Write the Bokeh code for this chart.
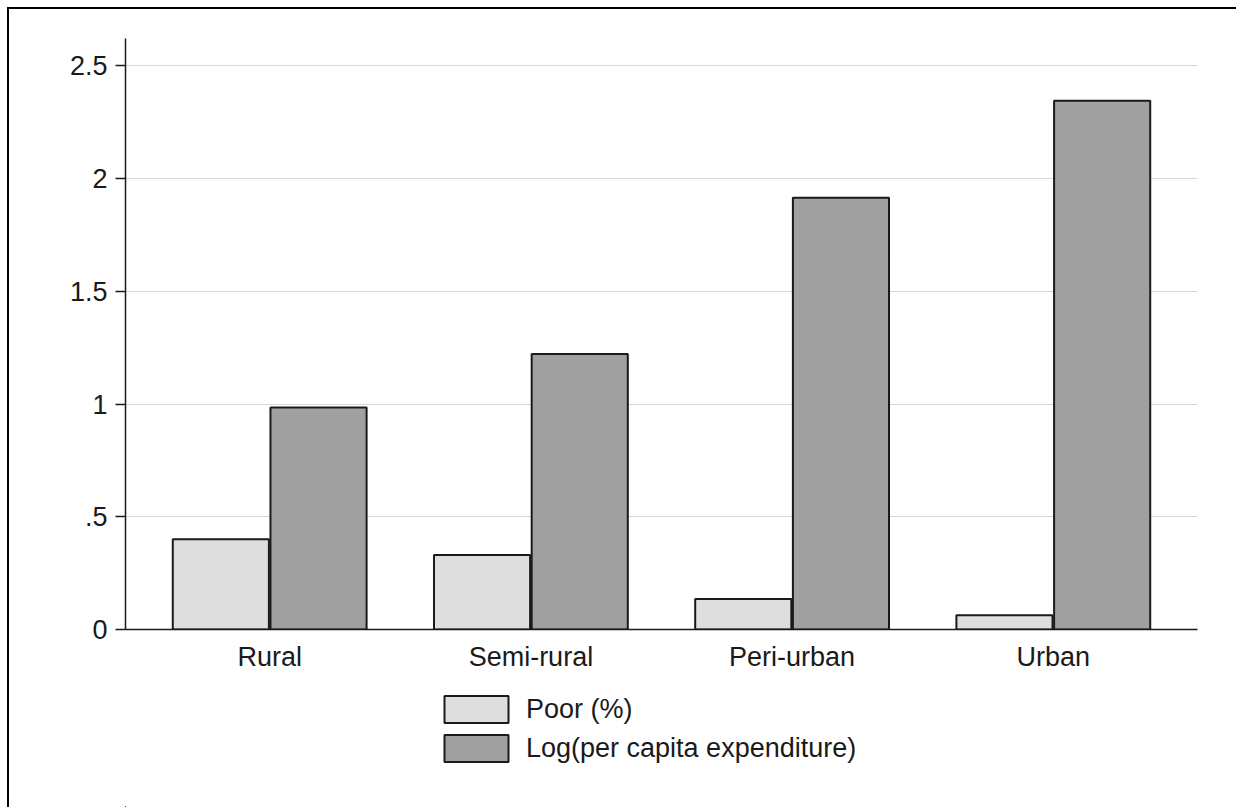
import numpy as np
from bokeh.plotting import figure
from bokeh.layouts import column
from bokeh.models import Range1d, FixedTicker, Legend, LegendItem
from bokeh.embed import file_html
from bokeh.resources import INLINE

# Area types and the two indicators plotted for each
categories = ["Rural", "Semi-rural", "Peri-urban", "Urban"]
poor_share = [0.40, 0.33, 0.135, 0.063]
log_expenditure = [0.985, 1.222, 1.915, 2.345]

y_ticks = [0, 0.5, 1, 1.5, 2, 2.5]
y_tick_labels = ["0", ".5", "1", "1.5", "2", "2.5"]

series_labels = ["Poor (%)", "Log(per capita expenditure)"]
series_fills = ["#dedede", "#a0a0a0"]

FONT = "Liberation Sans"
FONT_SIZE = "27px"
TEXT_COLOR = "#1a1a1a"
EDGE = "#1a1a1a"

x_pos = np.arange(1, len(categories) + 1, dtype=float)
bar_w = 0.368
offset = 0.187
series_x = [x_pos - offset, x_pos + offset]
series_vals = [poor_share, log_expenditure]

# ---- main bar chart -------------------------------------------------------
p = figure(
    width=1227, height=670,
    x_range=Range1d(0.448, 4.552),
    y_range=Range1d(0, 2.621),
    output_backend="svg",
    toolbar_location=None,
    min_border_left=116, min_border_right=39,
    min_border_top=29, min_border_bottom=50,
)
p.outline_line_color = None
p.background_fill_color = "white"
p.border_fill_color = "white"

for xs, vals, fill in zip(series_x, series_vals, series_fills):
    p.vbar(x=xs, top=vals, width=bar_w, bottom=0,
           fill_color=fill, line_color=EDGE, line_width=2)

p.xgrid.visible = False
p.ygrid.grid_line_color = "#d6d6d6"
p.ygrid.grid_line_width = 1

xa = p.xaxis[0]
xa.ticker = FixedTicker(ticks=list(x_pos))
xa.major_label_overrides = {float(x): c for x, c in zip(x_pos, categories)}
xa.major_tick_out = 0
xa.major_tick_in = 0
xa.minor_tick_line_color = None
xa.axis_line_color = EDGE
xa.axis_line_width = 1.5
xa.major_label_standoff = 12
xa.major_label_text_font = FONT
xa.major_label_text_font_size = FONT_SIZE
xa.major_label_text_color = TEXT_COLOR

ya = p.yaxis[0]
ya.ticker = FixedTicker(ticks=y_ticks)
ya.major_label_overrides = {float(t): s for t, s in zip(y_ticks, y_tick_labels)}
ya.major_tick_out = 10
ya.major_tick_in = 0
ya.major_tick_line_color = EDGE
ya.major_tick_line_width = 1.5
ya.minor_tick_line_color = None
ya.axis_line_color = EDGE
ya.axis_line_width = 1.5
ya.major_label_standoff = 8
ya.major_label_text_font = FONT
ya.major_label_text_font_size = FONT_SIZE
ya.major_label_text_color = TEXT_COLOR

# ---- legend strip under the chart ------------------------------------------
# The key renderers carry the same series but sit outside this strip's view,
# so only their legend swatches are seen.
lg = figure(
    width=1227, height=128,
    x_range=Range1d(100, 101), y_range=Range1d(100, 101),
    output_backend="svg",
    toolbar_location=None,
    x_axis_location=None, y_axis_location=None,
    min_border=0,
)
lg.outline_line_color = None
lg.grid.visible = False
lg.background_fill_color = "white"
lg.border_fill_color = "white"

keys = [lg.vbar(x=xs, top=vals, width=bar_w, bottom=0,
                fill_color=fill, line_color=EDGE, line_width=2)
        for xs, vals, fill in zip(series_x, series_vals, series_fills)]

legend = Legend(
    items=[LegendItem(label=lab, renderers=[r]) for lab, r in zip(series_labels, keys)],
    location=(311, 42),
    orientation="vertical",
    glyph_width=80, glyph_height=34,
    label_standoff=10,
    spacing=5,
    padding=5, margin=0,
    border_line_color=None,
    background_fill_alpha=0,
    label_text_font=FONT,
    label_text_font_size=FONT_SIZE,
    label_text_color=TEXT_COLOR,
)
lg.add_layout(legend, "center")

page = column(p, lg, spacing=0)
page.styles = {
    "margin-left": "7px",
    "margin-top": "7px",
    "border-left": "2px solid #000",
    "border-top": "2px solid #000",
}

open("out.html", "w").write(file_html(page, INLINE))
